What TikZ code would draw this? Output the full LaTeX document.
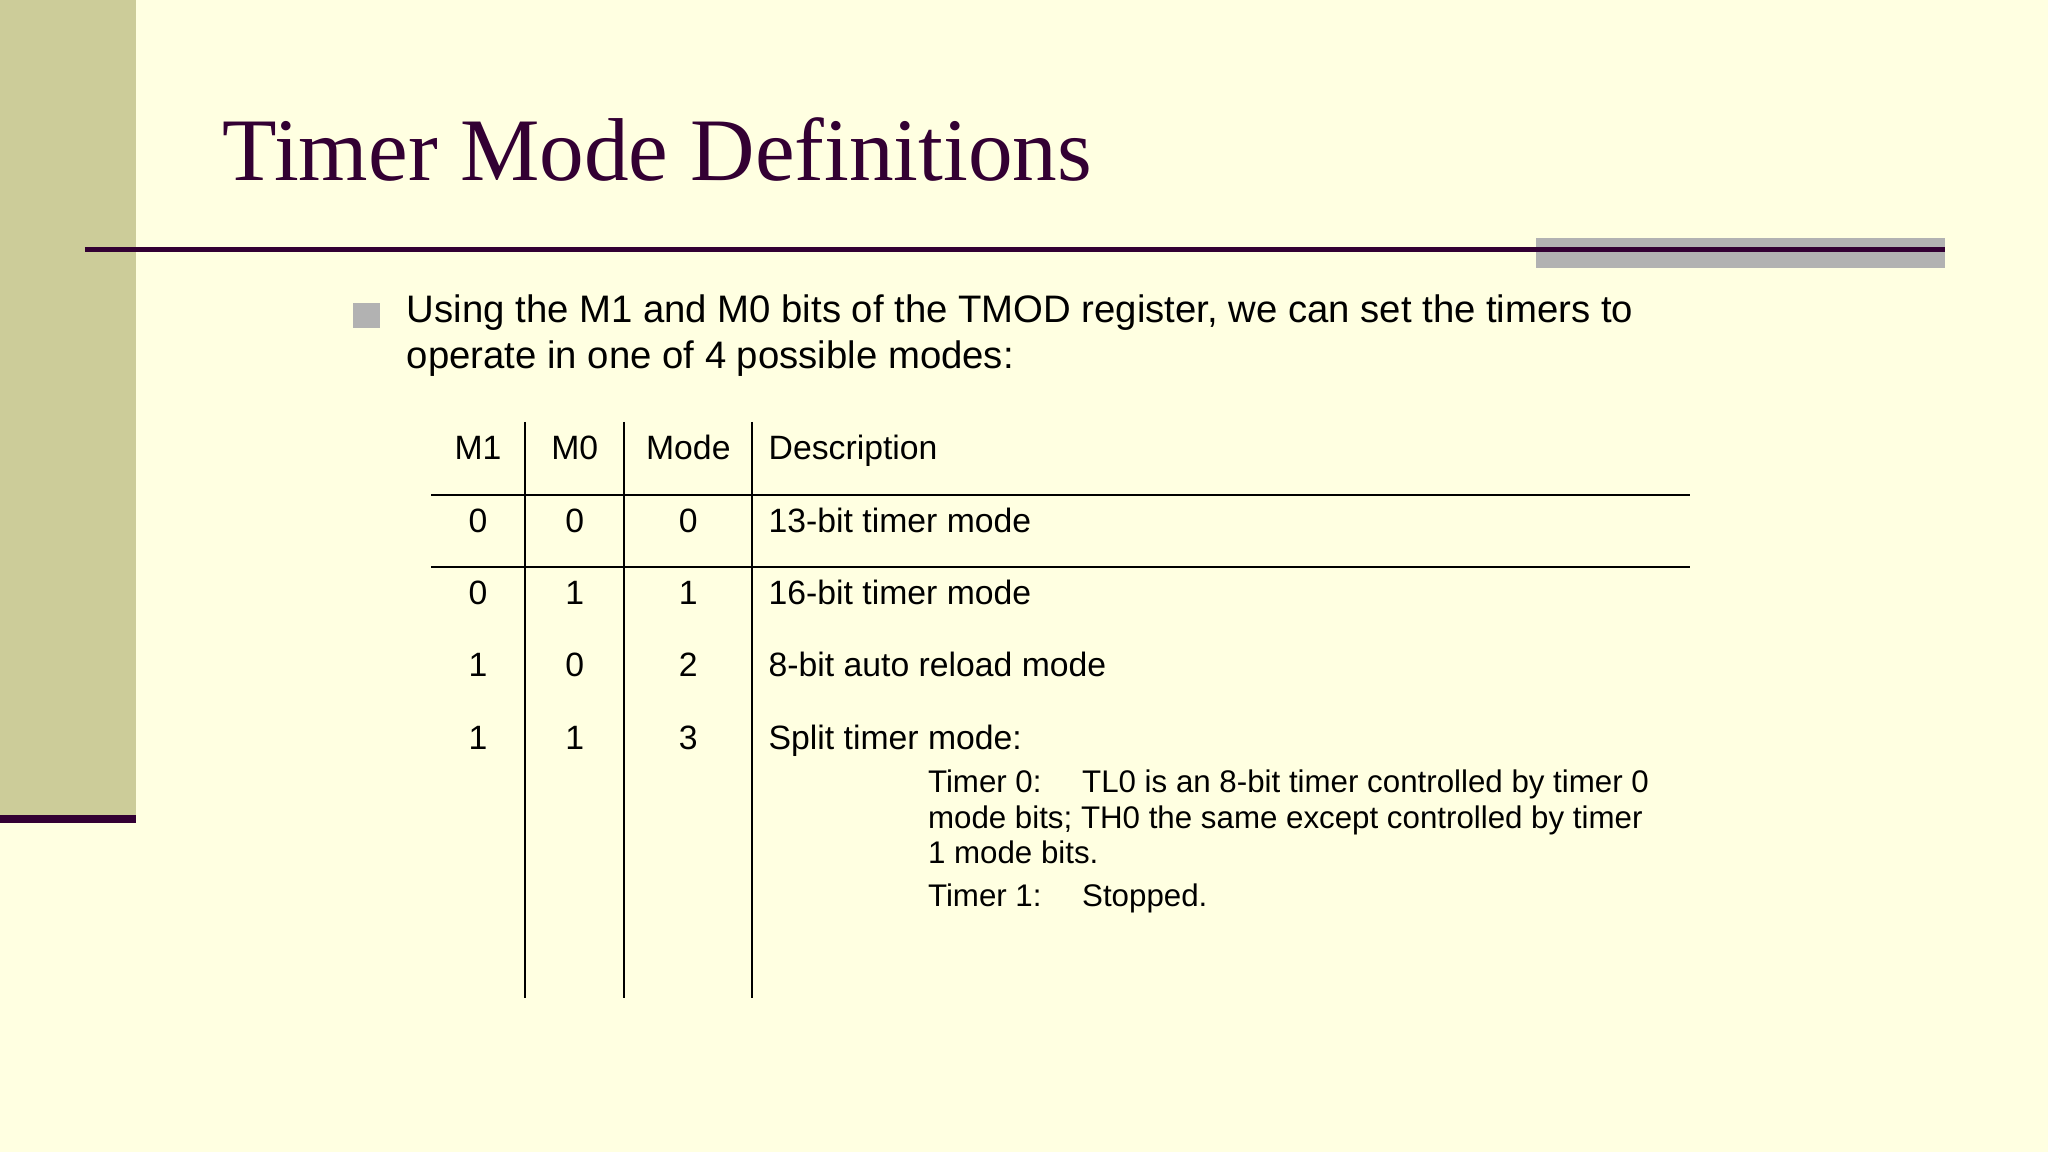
\documentclass[tikz,border=0pt]{standalone}
\usepackage{fontspec}
\setmainfont{Liberation Sans}
\newfontfamily\titlefont{Liberation Serif}
\definecolor{bg}{HTML}{FFFFE1}
\definecolor{band}{HTML}{CCCC99}
\definecolor{plum}{HTML}{330033}
\definecolor{bar}{HTML}{B2B2B2}
\tikzset{cell/.style={anchor=base,font=\fontsize{9.6}{11}\selectfont,inner sep=0pt},
 desc/.style={anchor=base west,font=\fontsize{9.6}{11}\selectfont,inner sep=0pt},
 small/.style={anchor=base west,font=\fontsize{8.9}{10.2}\selectfont,inner sep=0pt},
 big/.style={anchor=base west,inner sep=0pt,font=\fontsize{10.9}{13.5}\selectfont},
 rule/.style={line width=0.5pt,black}}
\begin{document}
\begin{tikzpicture}[x=0.013061cm,y=-0.013061cm]
\fill[bg] (0,0) rectangle (1568,882);
\useasboundingbox (0,0) rectangle (1568,882);
\fill[band] (0,0) rectangle (104,628);
\fill[plum] (0,624) rectangle (104,630);
\fill[bar] (1176,182) rectangle (1489,205);
\draw[plum,line width=1.2pt] (65,191) -- (1489,191);
\node[anchor=base west,inner sep=0pt,text=plum,font=\titlefont\fontsize{25.4}{30}\selectfont] (title) at (170,138) {Timer Mode Definitions};
\fill[bar] (270,232) rectangle (291,251);
\node[big] (intro1) at (311,247) {Using the M1 and M0 bits of the TMOD register, we can set the timers to};
\node[big] (intro2) at (311,282) {operate in one of 4 possible modes:};
% table rules
\draw[rule] (402,323) -- (402,764);
\draw[rule] (478,323) -- (478,764);
\draw[rule] (576,323) -- (576,764);
\draw[rule] (330,379) -- (1294,379);
\draw[rule] (330,434) -- (1294,434);
\node[cell] (h1) at (366,352) {M1};
\node[cell] (h2) at (440,352) {M0};
\node[cell] (h3) at (527,352) {Mode};
\node[desc] (h4) at (588,352) {Description};
\foreach \y/\a/\b/\c/\d [count=\i] in {408/0/0/0/13-bit timer mode,463/0/1/1/16-bit timer mode,518/1/0/2/8-bit auto reload mode,574/1/1/3/Split timer mode:}{
 \node[cell] (r\i a) at (366,\y) {\a};
 \node[cell] (r\i b) at (440,\y) {\b};
 \node[cell] (r\i c) at (527,\y) {\c};
 \node[desc] (r\i d) at (588,\y) {\d};
}
\node[small] (t0) at (710,607) {Timer 0:};
\node[small] (t0d) at (828,607) {TL0 is an 8-bit timer controlled by timer 0};
\node[small] (t0e) at (710,634) {mode bits; TH0 the same except controlled by timer};
\node[small] (t0f) at (710,661) {1 mode bits.};
\node[small] (t1) at (710,694) {Timer 1:};
\node[small] (t1d) at (828,694) {Stopped.};
\end{tikzpicture}
\end{document}
